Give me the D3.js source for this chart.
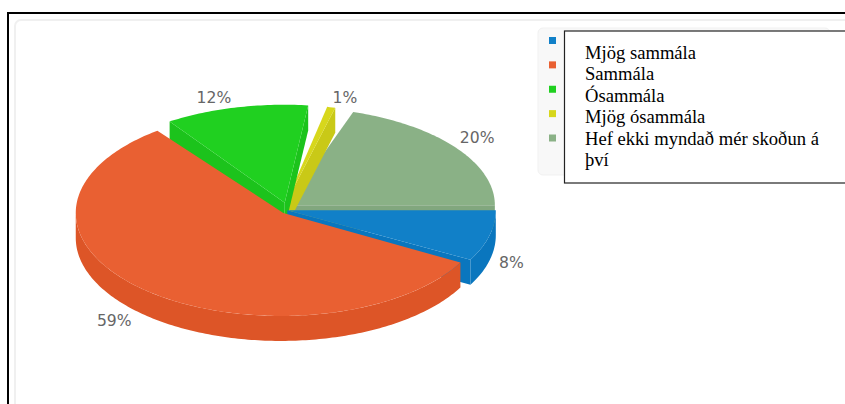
<!DOCTYPE html>
<html>
<head>
<meta charset="utf-8">
<script src="https://cdn.jsdelivr.net/npm/d3@7"></script>
<style>
  html, body { margin: 0; padding: 0; background: #fff; overflow: hidden; }
</style>
</head>
<body>
<div id="chart"></div>
<script>
// chart values
let categories = ["Mjög sammála", "Sammála", "Ósammála", "Mjög ósammála", "Hef ekki myndað mér skoðun á því"];
let answers = [8, 59, 12, 1, 20];

// top and side colors of the slices
let topColors = ["#1180c8", "#e96032", "#20d020", "#d7d71c", "#8ab186"];
let sideColors = ["#0a76be", "#dd5527", "#1cc31c", "#c9c917", "#81a77e"];

// the box over the legend wraps its last entry in two lines
let boxLines = ["Mjög sammála", "Sammála", "Ósammála", "Mjög ósammála", "Hef ekki myndað mér skoðun á", "því"];

// the 3d view of the original pulls the far edges of the slices round, in degrees
let startSkew = [0, 0, -5.2, -3, 0];
let endSkew = [0, -8.2, -7.7, -4.3, 0];

// percent labels are moved a little by hand, like the original does to avoid overlaps
let labelShiftX = [-6, -1, -41, -7, -2];
let labelShiftY = [0, 4, 6, 3, -1];

let width = 845;
let height = 404;

let attrs = {
  cx: 285,
  cy: 208.7,
  radius: 205,
  ryBack: 98, // slices in the far half look flatter
  ryFront: 103,
  depth: 25,
  explode: 6,
  apexPull: 0.4, // the tips stay closer to the pie center than the rims
  labelRx: 240,
  labelRy: 118,
  labelFont: "'DejaVu Sans'",
  labelColor: "#666666",
};

let svg = d3.select("#chart").append("svg").attr("width", width).attr("height", height).style("display", "block");

// page frame and chart card
svg.append("path")
  .attr("d", "M8 404V13H845")
  .attr("fill", "none")
  .attr("stroke", "#000")
  .attr("stroke-width", 2);
svg.append("rect")
  .attr("x", 15).attr("y", 20)
  .attr("width", 860).attr("height", 420)
  .attr("rx", 6)
  .attr("fill", "#fff")
  .attr("stroke", "#f0f0f0")
  .attr("stroke-width", 2);

// slices start at 3 o'clock and go clockwise
let rad = Math.PI / 180;
let pie = d3.pie().sort(null).startAngle(Math.PI / 2).endAngle(Math.PI / 2 + 2 * Math.PI);
let slices = pie(answers).map((d, i) => ({
  i,
  value: d.value,
  start: d.startAngle - Math.PI / 2 + startSkew[i] * rad,
  end: d.endAngle - Math.PI / 2 + endSkew[i] * rad,
  mid: (d.startAngle + d.endAngle) / 2 - Math.PI / 2,
}));

function project(theta, r, slice, drop) {
  let ry = Math.sin(slice.mid) < 0 ? attrs.ryBack : attrs.ryFront;
  let pull = r === 0 ? attrs.apexPull : 1;
  return [
    attrs.cx + Math.cos(slice.mid) * attrs.explode * pull + r * Math.cos(theta),
    attrs.cy + Math.sin(slice.mid) * attrs.explode + (r / attrs.radius) * ry * Math.sin(theta) + drop,
  ];
}

function arcPoints(from, to, slice, drop) {
  let n = Math.max(2, Math.ceil((to - from) * 60));
  return d3.range(n + 1).map((k) => project(from + ((to - from) * k) / n, attrs.radius, slice, drop));
}

let line = d3.line();

function wall(slice, theta) {
  return line([
    project(theta, 0, slice, 0),
    project(theta, attrs.radius, slice, 0),
    project(theta, attrs.radius, slice, attrs.depth),
    project(theta, 0, slice, attrs.depth),
  ]) + "Z";
}

// painting order, back to front
let order = [4, 3, 2, 0, 1];

let slice3d = svg.selectAll("g.slice")
  .data(order.map((i) => slices[i]))
  .enter()
  .append("g")
  .attr("class", "slice");

slice3d.each(function (d) {
  let g = d3.select(this);
  let side = sideColors[d.i];

  // inner walls that face the viewer
  if (Math.sin(d.start - Math.PI / 2) > 0) g.append("path").attr("d", wall(d, d.start)).attr("fill", side);
  if (Math.sin(d.end + Math.PI / 2) > 0) g.append("path").attr("d", wall(d, d.end)).attr("fill", side);

  // outer wall, only the part in the front half
  let from = Math.max(d.start, 0);
  let to = Math.min(d.end, Math.PI);
  if (to > from) {
    let topEdge = arcPoints(from, to, d, 0);
    let bottomEdge = arcPoints(from, to, d, attrs.depth).reverse();
    g.append("path").attr("d", line(topEdge.concat(bottomEdge)) + "Z").attr("fill", side);
  }

  // top face
  g.append("path")
    .attr("d", line([project(d.start, 0, d, 0)].concat(arcPoints(d.start, d.end, d, 0))) + "Z")
    .attr("fill", topColors[d.i]);
});

// percent labels
svg.selectAll("text.pct")
  .data(slices)
  .enter()
  .append("text")
  .attr("class", "pct")
  .attr("x", (d) => attrs.cx + attrs.labelRx * Math.cos(d.mid) + labelShiftX[d.i])
  .attr("y", (d) => {
    let s = Math.sin(d.mid);
    return attrs.cy + attrs.labelRy * s + (s > 0 ? attrs.depth : 0) + 5 + labelShiftY[d.i];
  })
  .attr("text-anchor", "middle")
  .attr("font-family", attrs.labelFont)
  .attr("font-size", 15.6)
  .attr("fill", attrs.labelColor)
  .text((d) => d.value + "%");

// legend card behind the box
svg.append("rect")
  .attr("x", 538).attr("y", 28)
  .attr("width", 292).attr("height", 147)
  .attr("rx", 5)
  .attr("fill", "#f8f8f8")
  .attr("stroke", "#f1f1f1");

let legendY = d3.scalePoint().domain(categories).range([40.5, 138]);

svg.selectAll("rect.key")
  .data(categories)
  .enter()
  .append("rect")
  .attr("class", "key")
  .attr("x", 549)
  .attr("y", (d) => legendY(d) - 3.5)
  .attr("width", 7)
  .attr("height", 7)
  .attr("fill", (d, i) => topColors[i]);

// white box with black border over the legend
svg.append("rect")
  .attr("x", 564.5).attr("y", 31)
  .attr("width", 300).attr("height", 152)
  .attr("fill", "#fff")
  .attr("stroke", "#222")
  .attr("stroke-width", 1.2);

let boxY = d3.scalePoint().domain(boxLines).range([59, 166]);

svg.selectAll("text.line")
  .data(boxLines)
  .enter()
  .append("text")
  .attr("class", "line")
  .attr("x", 585)
  .attr("y", (d) => boxY(d))
  .attr("font-family", "'Liberation Serif'")
  .attr("font-size", 18.6)
  .attr("fill", "#000")
  .text((d) => d);
</script>
</body>
</html>
